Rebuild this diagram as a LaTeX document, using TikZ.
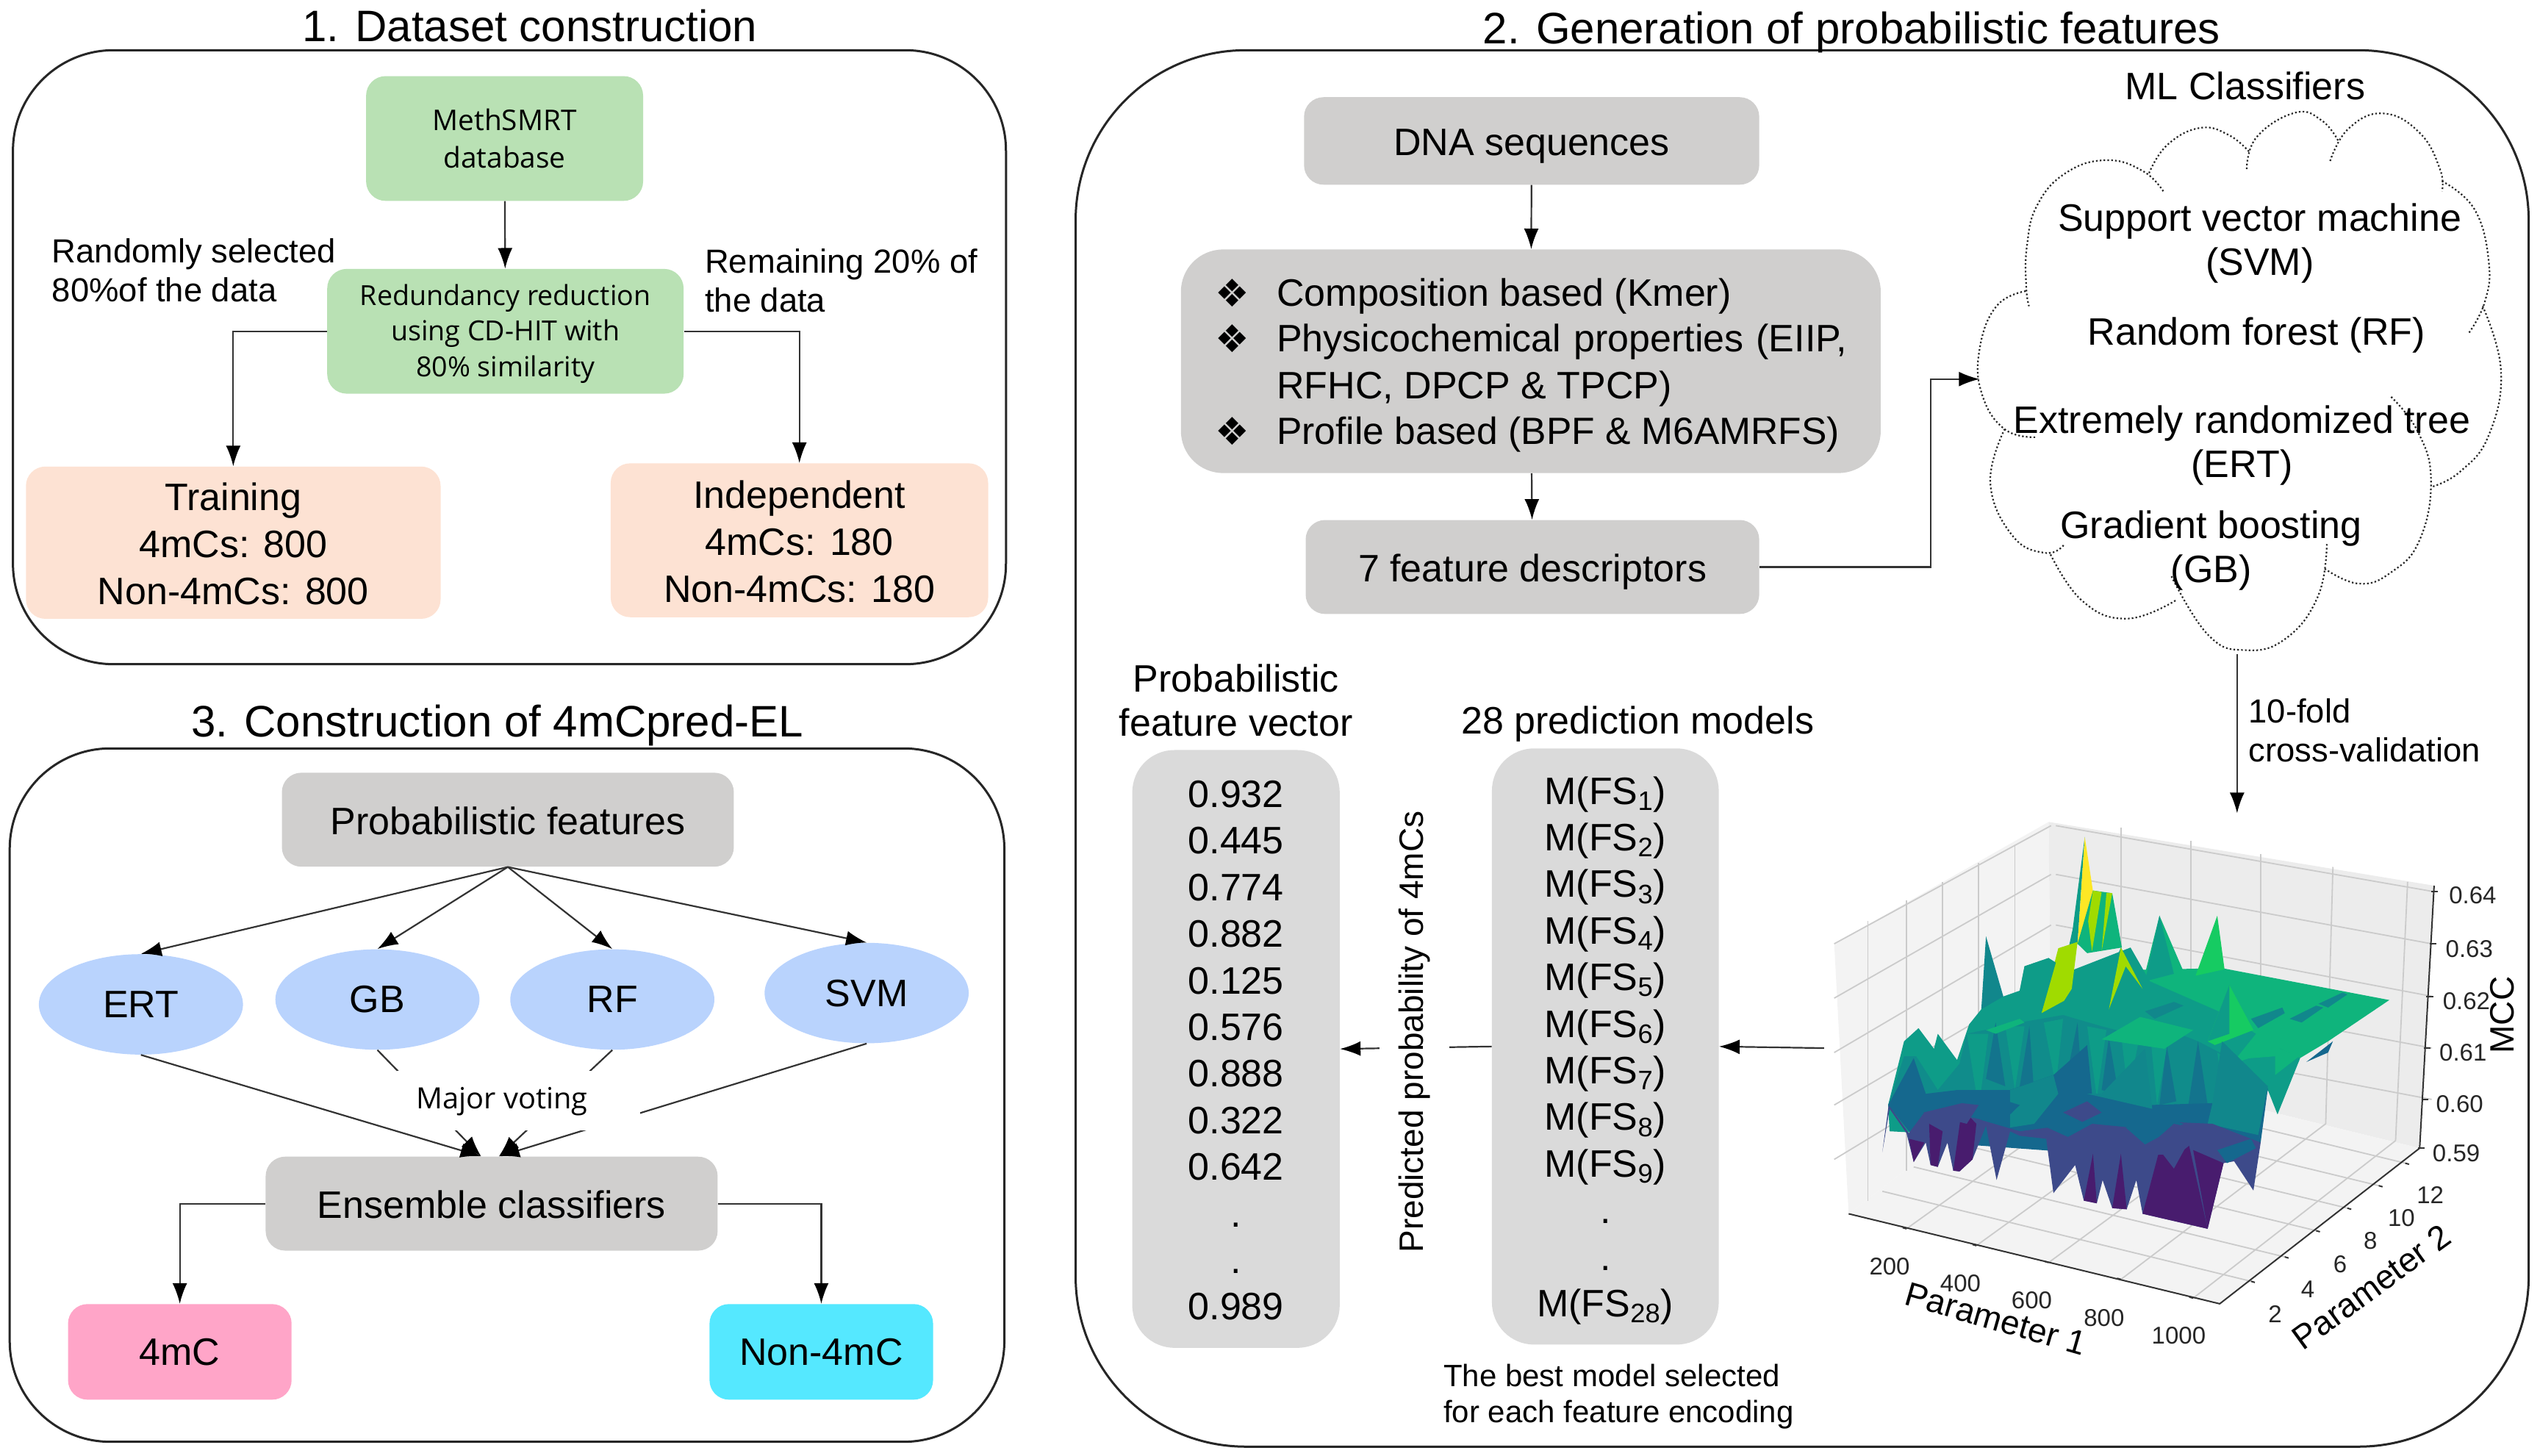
\documentclass[tikz,border=0pt]{standalone}
\usepackage{fontspec}
\setmainfont{Liberation Sans}
\newfontfamily\humfont{Open Sans}
\newfontfamily\symfont{DejaVu Sans}
\usetikzlibrary{arrows.meta,shapes.geometric}
\newdimen\pxu \pxu=1.102pt
\definecolor{greenbox}{HTML}{B9E1B4}
\definecolor{peachbox}{HTML}{FDE2D3}
\definecolor{graybox}{HTML}{D0CFCE}
\definecolor{graylight}{HTML}{DADADA}
\definecolor{bluell}{HTML}{B9D3FD}
\definecolor{pinkbox}{HTML}{FFA5C8}
\definecolor{cyanbox}{HTML}{55E8FF}
\definecolor{linegray}{HTML}{333333}
\definecolor{paneg}{HTML}{F3F3F3}
\definecolor{gridg}{HTML}{CBCBCB}
\definecolor{vA}{HTML}{481C6E}
\definecolor{vB}{HTML}{3D4A8A}
\definecolor{vC}{HTML}{15688E}
\definecolor{vD}{HTML}{11878C}
\definecolor{vE}{HTML}{0E9C88}
\definecolor{vF}{HTML}{0FB47C}
\definecolor{vG}{HTML}{16CB62}
\definecolor{vH}{HTML}{A0DB00}
\definecolor{vI}{HTML}{FDE725}
\tikzset{
  fsL/.style={font=\fontsize{26}{32}\selectfont},
  fsV/.style={font=\fontsize{26}{31.7}\selectfont},
  fsC/.style={font=\fontsize{26}{30}\selectfont},
  fsM/.style={font=\fontsize{22.7}{26.5}\selectfont},
  fsS/.style={font=\fontsize{21}{24.5}\selectfont},
  fsT/.style={font=\fontsize{30}{34}\selectfont},
  fsH/.style={font=\humfont\fontsize{19.4}{25.3}\selectfont},
  fsTick/.style={font=\fontsize{16.5}{20}\selectfont, text=black!85},
  fsAxis/.style={font=\fontsize{23}{28}\selectfont},
  rbox/.style={rounded corners=12\pxu, inner sep=0pt, align=center},
  gbox/.style={rbox, fill=graybox, fsL},
  grnbox/.style={rbox, fill=greenbox, fsH},
  pbox/.style={rbox, fill=peachbox, fsL},
  vecbox/.style={rbox, rounded corners=26\pxu, fill=graylight, fsL},
  ell/.style={ellipse, fill=bluell, inner sep=0pt, minimum width=126\pxu, minimum height=62\pxu, fsL},
  tsh/.style={text height=#1, text depth=5pt},
  panel/.style={draw=black!85, line width=1.5pt},
  arr/.style={draw=linegray, line width=1.1pt, -{Latex[length=14pt,width=10pt,black]}},
  cloudline/.style={draw=black!85, line width=1.1pt, dash pattern=on 1.1pt off 1.5pt},
  grid3d/.style={draw=gridg, line width=0.9pt},
  axis3d/.style={draw=black!80, line width=1pt}
}
\begin{document}
\begin{tikzpicture}[x=1.102pt,y=-1.102pt]
\useasboundingbox (0,0) rectangle (1568,898.4);
% panels
\draw[panel, rounded corners=62\pxu] (8,31) rectangle (621,410);
\draw[panel, rounded corners=105\pxu] (664,31) rectangle (1561,893);
\draw[panel, rounded corners=62\pxu] (6,462) rectangle (620,890);
\node[fsT] (t1) at (327,16) {1. Dataset construction};
\node[fsT] (t2) at (1143,20) {2. Generation of probabilistic features};
\node[fsT] (t3) at (307,448) {3. Construction of 4mCpred-EL};
% panel 1
\node[grnbox, minimum width=171\pxu, minimum height=77\pxu] (meth) at (311.5,85.5) {MethSMRT\\database};
\node[grnbox, minimum width=220\pxu, minimum height=77\pxu] (red) at (312,204.5) {};
\node[font=\humfont\fontsize{18.8}{24.3}\selectfont, align=center, inner sep=0pt] (redt) at (312,206) {Redundancy reduction\\using CD-HIT with\\80\% similarity};
\node[pbox, minimum width=256\pxu, minimum height=94\pxu] (train) at (144,335) {};
\node[fsL, align=center, inner sep=0pt] (traint) at (144,335.5) {Training\\4mCs: 800\\Non-4mCs: 800};
\node[pbox, minimum width=233\pxu, minimum height=95\pxu] (indep) at (493.5,333.5) {};
\node[fsL, align=center, inner sep=0pt] (indept) at (493.5,334.5) {Independent\\4mCs: 180\\Non-4mCs: 180};
\node[fsM, align=left, anchor=west, inner sep=0pt] (lab1) at (32,167) {Randomly selected\\80\%of the data};
\node[fsM, align=left, anchor=west, inner sep=0pt] (lab2) at (435,173) {Remaining 20\% of\\the data};
\draw[arr] (meth) -- (red);
\draw[arr] (red.west) -| (train.north);
\draw[arr] (red.east) -| (indep.north);
% panel 3
\node[gbox, tsh=25pt, minimum width=279\pxu, minimum height=58\pxu] (probf) at (313.5,506) {Probabilistic features};
\node[ell] (ert) at (87,620) {ERT};
\node[ell] (gb) at (233,617) {GB};
\node[ell] (rf) at (378,617) {RF};
\node[ell] (svm) at (535,613) {SVM};
\node[gbox, tsh=25pt, minimum width=279\pxu, minimum height=58\pxu] (ens) at (303.5,743) {Ensemble classifiers};
\node[rbox, fill=pinkbox, fsL, minimum width=138\pxu, minimum height=59\pxu] (mc) at (111,834.5) {4mC};
\node[rbox, fill=cyanbox, fsL, minimum width=138\pxu, minimum height=59\pxu] (nmc) at (507,834.5) {Non-4mC};
\foreach \t in {ert,gb,rf,svm}{\draw[arr] (probf.south) -- (\t.north);}
\draw[arr] (ert.south) -- ([xshift=-6.5\pxu]ens.north);
\draw[arr] (gb.south) -- ([xshift=-6.5\pxu]ens.north);
\draw[arr] (rf.south) -- ([xshift=4.5\pxu]ens.north);
\draw[arr] (svm.south) -- ([xshift=4.5\pxu]ens.north);
\fill[white] (245,661) rectangle (395,698);
\node[font=\humfont\fontsize{19.9}{25}\selectfont] (mv) at (310,680) {Major voting};
\draw[arr] (ens.west) -| (mc.north);
\draw[arr] (ens.east) -| (nmc.north);
% panel 2
\node[gbox, tsh=25pt, minimum width=281\pxu, minimum height=54\pxu] (dna) at (945.5,87) {DNA sequences};
\node[gbox, rounded corners=26\pxu, minimum width=432\pxu, minimum height=138\pxu] (feat) at (945,223) {};
\node[fsL, anchor=west] (b1) at (747,181) {\symfont ❖};
\node[fsL, anchor=west] (b2) at (747,209) {\symfont ❖};
\node[fsL, anchor=west] (b3) at (747,266) {\symfont ❖};
\node[fsL, anchor=west, inner sep=0pt] (f1) at (788,183) {Composition based (Kmer)};
\node[fsL, anchor=west, inner sep=0pt] (f2) at (788,211) {\makebox[352\pxu][s]{Physicochemical properties (EIIP,}};
\node[fsL, anchor=west, inner sep=0pt] (f3) at (788,240) {RFHC, DPCP \& TPCP)};
\node[font=\fontsize{25.8}{30}\selectfont, anchor=west, inner sep=0pt] (f4) at (788,268) {Profile based (BPF \& M6AMRFS)};
\node[gbox, tsh=25pt, minimum width=280\pxu, minimum height=58\pxu] (fd) at (946,350) {7 feature descriptors};
\draw[arr] (dna) -- (feat);
\draw[arr] (feat) -- (fd);
\coordinate (bend) at (1192,234);
\coordinate (cloudin) at (1222,234);
\draw[arr] (fd.east) -| (bend) -- (cloudin);
% cloud, coordinates in reference crop units
\begin{scope}[shift={(1179.7,27.2)}, x=0.2768pt, y=-0.2743pt]
\draw[cloudline] plot[smooth, tension=0.75] coordinates {(620,365)(570,315)(480,288)(380,320)(310,400)(285,500)(283,600)(290,650)};
\draw[cloudline] plot[smooth, tension=0.75] coordinates {(585,320)(630,250)(710,208)(780,225)(832,268)};
\draw[cloudline] plot[smooth, tension=0.75] coordinates {(825,310)(850,230)(945,170)(1010,190)(1050,240)};
\draw[cloudline] plot[smooth, tension=0.75] coordinates {(1030,290)(1075,210)(1160,172)(1250,220)(1300,310)(1305,365)};
\draw[cloudline] plot[smooth, tension=0.75] coordinates {(1305,340)(1385,410)(1420,540)(1410,640)(1370,718)};
\draw[cloudline] plot[smooth, tension=0.75] coordinates {(1405,650)(1450,810)(1420,970)(1350,1060)(1280,1098)};
\draw[cloudline] plot[smooth, tension=0.75] coordinates {(1180,875)(1245,960)(1278,1080)(1250,1230)(1180,1310)(1100,1338)(1015,1300)};
\draw[cloudline] plot[smooth, tension=0.75] coordinates {(1022,1240)(1000,1370)(920,1475)(820,1503)(730,1465)(640,1320)};
\draw[cloudline] plot[smooth, tension=0.75] coordinates {(650,1380)(530,1425)(420,1380)(340,1260)};
\draw[cloudline] plot[smooth, tension=0.75] coordinates {(375,1243)(330,1262)(250,1220)(195,1090)(230,955)};
\draw[cloudline] plot[smooth, tension=0.75] coordinates {(305,975)(230,955)(175,870)(168,760)(210,650)(285,612)};
\end{scope}
\node[fsL] (mlc) at (1386,53) {ML Classifiers};
\node[fsC, align=center] (svmt) at (1395,150) {Support vector machine\\(SVM)};
\node[fsL] (rft) at (1393,207) {Random forest (RF)};
\node[fsC, align=center] (ertt) at (1384,275) {Extremely randomized tree\\(ERT)};
\node[fsC, align=center] (gbt) at (1365,340) {Gradient boosting\\(GB)};
\coordinate (cloudout) at (1381,404);
\coordinate (plotin) at (1381,502);
\draw[arr] (cloudout) -- (plotin);
\node[fsM, align=left, anchor=west, inner sep=0pt] (cv) at (1388,451) {10-fold\\cross-validation};
% 3D plot, coordinates in reference crop units
\begin{scope}[shift={(1107,490)}, x=0.3278pt, y=-0.2551pt]
\fill[paneg] (85,400)--(530,75)--(535,705)--(115,1120)--cycle;
\fill[paneg!97!black] (530,75)--(1330,245)--(1300,945)--(535,705)--cycle;
\fill[paneg] (115,1120)--(885,1360)--(1300,945)--(535,705)--cycle;
% grid
\foreach \xa/\ya/\yb in {155/340/1085,235/285/1005,310/235/935,385/185/860,460/135/785}{\draw[grid3d] (\xa,\ya)--(\xa,\yb);}
\foreach \xa/\ya/\xb/\yb in {680/90/680/750,825/125/825/792,970/160/970/835,1120/195/1105/880,1275/235/1250/925}{\draw[grid3d] (\xa,\ya)--(\xb,\yb);}
\foreach \ya/\yb/\yc in {85/260/400,215/400/545,350/540/690,490/678/830,625/815/975}{
  \draw[grid3d] (545,\ya)--(1325,\yb);
  \draw[grid3d] (535,\ya)--(85,\yc);
}
\foreach \xa/\ya/\xb/\yb in {235/1160/680/750,380/1205/825/792,530/1250/970/835,680/1295/1105/880,830/1345/1250/925}{\draw[grid3d] (\xa,\ya)--(\xb,\yb);}
\foreach \xa/\ya/\xb/\yb in {950/1300/185/1060,1020/1235/250/995,1085/1165/315/925,1150/1105/380/865,1215/1045/445/805,1270/985/500/745}{\draw[grid3d] (\xa,\ya)--(\xb,\yb);}
% surface: back spikes
\fill[vE] (580,360)--(605,115)--(590,400)--(570,420)--cycle;
\fill[vI] (605,115)--(622,260)--(612,340)--(590,400)--cycle;
\fill[vF] (622,258)--(662,265)--(682,410)--(610,425)--(590,400)--cycle;
\fill[vH] (622,258)--(640,262)--(620,420)--(612,340)--cycle;
\fill[vH] (650,264)--(662,265)--(640,420)--cycle;
% plate
\fill[vF] (700,470)--(890,465)--(1237,550)--(1110,660)--(1045,710)--(900,720)--(650,650)--(500,590)--cycle;
\fill[vF] (730,480)--(760,325)--(812,480)--cycle;
\fill[vE] (760,325)--(790,480)--(730,500)--cycle;
\fill[vG] (835,485)--(880,325)--(895,468)--cycle;
\fill[vD] (390,580)--(400,380)--(437,545)--cycle;
\fill[vC] (1065,715)--(1120,660)--(1110,690)--cycle;
% mid teal
\fill[vE] (197,830)--(230,660)--(260,625)--(292,680)--(300,640)--(340,710)--(365,615)--(390,575)--(437,540)--(470,525)--(480,460)--(530,438)--(560,480)--(640,440)--(700,410)--(740,500)--(900,590)--(960,640)--(910,720)--(1010,680)--(1052,705)--(1005,855)--(985,790)--(960,900)--(500,920)--(200,900)--cycle;
\fill[vD!75!vE] (197,830)--(230,700)--(255,700)--(300,790)--(345,720)--(360,640)--(470,610)--(560,590)--(640,620)--(700,640)--(760,620)--(840,660)--(900,700)--(900,830)--(800,880)--(300,880)--cycle;
% stripes in the mid band
\foreach \xa/\ya/\xb/\yb/\xc/\yc in {400/760/420/610/440/780,470/780/490/620/500/800,560/800/590/610/600/790,640/790/655/650/675/800,700/800/715/700/735/820,760/830/775/670/795/820,820/830/840/660/860/830}{\fill[vC!60!vD] (\xa,\ya)--(\xb,\yb)--(\xc,\yc)--cycle;}
\foreach \xa/\ya/\xb/\yb/\xc/\yc in {360/640/385/840/405/640,440/620/460/790/480/620,520/610/545/780/560/600,610/620/630/810/650/630,680/640/695/800/720/640,740/630/755/830/780/640,880/690/900/880/920/720}{\fill[vE] (\xa,\ya)--(\xb,\yb)--(\xc,\yc)--cycle;}
% lime spikes
\fill[vH] (515,585)--(550,412)--(590,395)--(578,520)--(562,552)--cycle;
\fill[vE] (625,570)--(680,410)--(725,520)--(670,575)--cycle;
\fill[vH] (655,575)--(680,410)--(725,520)--(690,460)--cycle;
\fill[vE] (470,525)--(480,460)--(530,438)--(545,450)--(515,585)--cycle;
\fill[vD] (730,580)--(790,555)--(810,565)--(750,600)--cycle;
\fill[vD] (950,600)--(1015,570)--(1020,585)--(965,625)--cycle;
\fill[vD] (1030,600)--(1085,565)--(1100,570)--(1055,610)--cycle;
\fill[vD] (1090,560)--(1140,530)--(1150,535)--(1110,570)--cycle;
% mid green spike
\fill[vG] (860,660)--(905,510)--(955,630)--(875,670)--cycle;
\fill[vE] (860,660)--(905,510)--(905,640)--cycle;
\fill[vF] (640,655)--(720,595)--(830,630)--(770,680)--cycle;
\fill[vF] (900,710)--(1000,675)--(1050,700)--(1000,750)--(1000,700)--cycle;
\fill[vF] (400,630)--(470,600)--(480,610)--(420,640)--cycle;
% lower blue band
\fill[vC] (197,830)--(250,705)--(275,800)--(340,790)--(450,790)--(540,750)--(610,670)--(620,800)--(740,830)--(870,825)--(985,785)--(970,930)--(890,985)--(300,930)--(240,900)--cycle;
\fill[vD] (450,790)--(540,750)--(550,800)--(500,880)--(450,890)--cycle;
\fill[vD] (610,800)--(640,800)--(730,680)--(745,840)--cycle;
\fill[vD] (870,825)--(890,660)--(985,780)--(965,910)--(860,880)--cycle;
% front skirt with purple spikes
\fill[vB] (185,955)--(198,830)--(240,905)--(272,850)--(350,830)--(390,870)--(470,900)--(530,890)--(620,880)--(700,890)--(780,875)--(870,880)--(970,930)--(955,1058)--(915,980)--(893,985)--(860,1160)--(725,1120)--(712,1030)--(692,1108)--(662,1105)--(642,1030)--(630,1092)--(603,1085)--(585,990)--(540,1065)--(525,920)--(470,912)--(450,900)--(422,1030)--(400,885)--(372,975)--(345,1007)--(332,1005)--(320,930)--(300,995)--(285,990)--(275,930)--(250,982)--(235,905)--(200,840)--cycle;
\fill[vA] (240,920)--(250,982)--(272,930)--cycle;
\fill[vA] (285,990)--(300,995)--(310,900)--(282,880)--cycle;
\fill[vA] (332,1005)--(345,1007)--(372,975)--(380,880)--(350,840)--cycle;
\fill[vA] (603,1085)--(630,1092)--(622,960)--cycle;
\fill[vA] (662,1105)--(692,1108)--(680,960)--cycle;
\fill[vA] (725,1120)--(760,950)--(790,1000)--(820,930)--(860,1160)--cycle;
\fill[vA] (860,1160)--(893,985)--(830,950)--cycle;
% top patches on the skirt
\fill[vC] (360,860)--(420,810)--(470,830)--(430,880)--cycle;
\fill[vB] (270,850)--(350,825)--(385,830)--(360,880)--cycle;
\fill[vC] (510,880)--(560,850)--(620,880)--(570,915)--cycle;
\fill[vB] (560,850)--(610,820)--(640,850)--(600,875)--cycle;
\fill[vC] (690,890)--(760,860)--(810,880)--(730,935)--cycle;
\fill[vB] (715,965)--(790,880)--(860,900)--(800,960)--cycle;
\fill[vC] (880,950)--(950,920)--(960,945)--(900,985)--cycle;
% axes
\draw[axis3d] (115,1120)--(885,1360)--(1300,945)--(1330,245);
\foreach \xa/\ya in {235/1160,380/1205,530/1250,680/1295,830/1345}{\draw[axis3d] (\xa,\ya)--(\xa-8,\ya-3);}
\foreach \xa/\ya in {950/1300,1020/1235,1085/1165,1150/1105,1215/1045,1270/985}{\draw[axis3d] (\xa,\ya)--(\xa+8,\ya+3);}
\foreach \xa/\ya in {1330/260,1327/400,1320/540,1315/678,1310/815,1303/945}{\draw[axis3d] (\xa-6,\ya)--(\xa+8,\ya);}
% tick labels
\foreach \xa/\ya/\t in {200/1260/200,347/1305/400,495/1350/600,645/1398/800,800/1445/1000,1000/1388/2,1068/1322/4,1135/1255/6,1198/1192/8,1262/1132/10,1322/1070/12,1410/270/0.64,1403/413/0.63,1397/552/0.62,1390/690/0.61,1383/827/0.60,1376/958/0.59}{\node[fsTick, inner sep=0pt] at (\xa,\ya) {\t};}
\node[fsAxis, rotate=-16, inner sep=0pt] (ax1) at (420,1400) {Parameter 1};
\node[fsAxis, rotate=36, inner sep=0pt] (ax2) at (1200,1315) {Parameter 2};
\node[fsAxis, rotate=90, inner sep=0pt] (ax3) at (1472,590) {MCC};
\end{scope}
% vectors
\node[vecbox, minimum width=128\pxu, minimum height=369\pxu] (vec) at (763,647.5) {};
\node[fsV, align=center, inner sep=0pt] (vect2) at (763,648.5) {0.932\\0.445\\0.774\\0.882\\0.125\\0.576\\0.888\\0.322\\0.642\\.\\.\\0.989};
\node[vecbox, minimum width=140\pxu, minimum height=368\pxu] (mods) at (991,646) {};
\node[fsV, align=center, inner sep=0pt] (mods2) at (991,648.5) {M(FS\textsubscript{1})\\M(FS\textsubscript{2})\\M(FS\textsubscript{3})\\M(FS\textsubscript{4})\\M(FS\textsubscript{5})\\M(FS\textsubscript{6})\\M(FS\textsubscript{7})\\M(FS\textsubscript{8})\\M(FS\textsubscript{9})\\.\\.\\M(FS\textsubscript{28})};
\node[fsC, align=center] (vect) at (763,432.5) {Probabilistic\\feature vector};
\node[fsL] (modt) at (1011,447) {28 prediction models};
\coordinate (plotout) at (1126,647);
\draw[arr] (plotout) -- (mods.east);
\draw[arr] (mods.west) -- (vec.east);
\node[rotate=90, fill=white, inner sep=0pt, minimum height=43\pxu, font=\fontsize{23}{28}\selectfont] (pp) at (873,637) {Predicted probability of 4mCs};
\node[fsS, align=left, anchor=west, inner sep=0pt] (best) at (891,862) {The best model selected\\for each feature encoding};
\end{tikzpicture}
\end{document}
